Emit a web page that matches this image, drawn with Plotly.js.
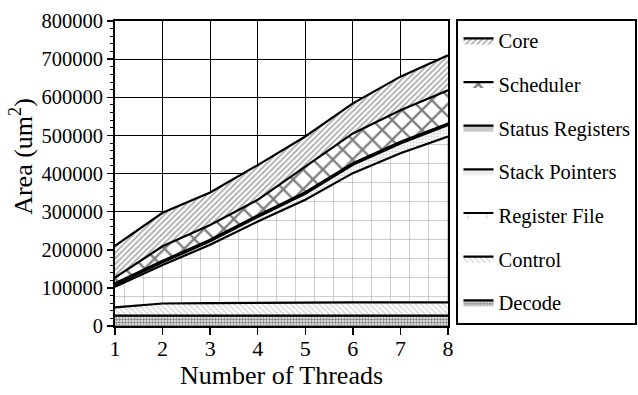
<!DOCTYPE html>
<html>
<head>
<meta charset="utf-8">
<script src="https://cdn.plot.ly/plotly-3.0.1.min.js"></script>
<style>html,body{margin:0;padding:0;background:#fff;}#chart{width:638px;height:395px;}</style>
</head>
<body>
<div id="chart"></div>
<script>
// Data (layer thicknesses, stacked bottom to top)
var threads = [1, 2, 3, 4, 5, 6, 7, 8];
var decode = [27000, 27000, 27000, 27000, 27000, 27000, 27000, 27000];
var control = [22000, 32000, 33000, 34000, 34000, 35000, 35000, 35000];
var registerFile = [54000, 101000, 153000, 213000, 270000, 339000, 391000, 435000];
var stackPointers = [5000, 7000, 9000, 12000, 16000, 22000, 26000, 30000];
var statusRegisters = [4000, 4000, 4000, 4000, 4000, 4000, 4000, 4000];
var scheduler = [15000, 38000, 39000, 41000, 67000, 78000, 83000, 87000];
var core = [83000, 88000, 85000, 91000, 79000, 79000, 88000, 92000];
var yTickVals = [0, 100000, 200000, 300000, 400000, 500000, 600000, 700000, 800000];
var yTickText = ['0', '100000', '200000', '300000', '400000', '500000', '600000', '700000', '800000'];

var FONT = 'Liberation Serif';

function layer(name, values, pattern, rank) {
  var t = {
    x: threads, y: values, name: name, type: 'scatter', mode: 'lines',
    stackgroup: 'one', legendgroup: name, legendrank: rank,
    line: {color: '#000', width: 2.2},
    fillcolor: '#ffffff',
    hoverinfo: 'skip'
  };
  if (pattern) t.fillpattern = pattern;
  return t;
}

var traces = [
  layer('Decode', decode, {shape: '.', size: 3, solidity: 0.6, fgcolor: '#000', bgcolor: '#fff', fillmode: 'overlay'}, 7),
  layer('Control', control, {shape: '\\', size: 4, solidity: 0.35, fgcolor: '#aaa', bgcolor: '#fff', fillmode: 'overlay'}, 6),
  layer('Register File', registerFile, {shape: '+', size: 19, solidity: 0.05, fgcolor: '#333', bgcolor: '#fff', fillmode: 'overlay'}, 5),
  layer('Stack Pointers', stackPointers, {shape: '.', size: 3, solidity: 0.5, fgcolor: '#bbb', bgcolor: '#fff', fillmode: 'overlay'}, 4),
  layer('Status Registers', statusRegisters, null, 3),
  layer('Scheduler', scheduler, {shape: 'x', size: 14, solidity: 0.3, fgcolor: '#000', bgcolor: '#fff', fillmode: 'overlay'}, 2),
  layer('Core', core, {shape: '/', size: 4, solidity: 0.45, fgcolor: '#555', bgcolor: '#fff', fillmode: 'overlay'}, 1)
];
traces[4].fillcolor = '#c8c8c8';

var layout = {
  width: 638, height: 395,
  margin: {l: 115, r: 190, t: 21, b: 68.5, autoexpand: false},
  paper_bgcolor: '#fff', plot_bgcolor: '#fff',
  font: {family: FONT, size: 20, color: '#000'},
  showlegend: true,
  legend: {
    x: 1.0255, y: 1.008, xanchor: 'left', yanchor: 'top',
    traceorder: 'grouped', tracegroupgap: 14, maxheight: 1,
    bordercolor: '#000', borderwidth: 2, bgcolor: '#fff',
    font: {family: FONT, size: 20.5, color: '#000'}
  },
  annotations: [{
    xref: 'paper', yref: 'paper', x: -0.279, y: 0.555,
    xanchor: 'center', yanchor: 'middle', textangle: -90, showarrow: false,
    text: 'Area (um<sup>2</sup>)', font: {family: FONT, size: 26, color: '#000'}
  }],
  xaxis: {
    range: [1, 8], tickvals: threads, ticktext: threads.map(String),
    showgrid: true, gridcolor: '#000', gridwidth: 1,
    showline: true, linecolor: '#000', linewidth: 2, mirror: true,
    ticks: 'outside', ticklen: 7, tickwidth: 1.5, tickcolor: '#000',
    tickfont: {family: FONT, size: 22}, ticklabelstandoff: -5,
    title: {text: 'Number of Threads', font: {family: FONT, size: 26}, standoff: 4},
    zeroline: false, fixedrange: true
  },
  yaxis: {
    range: [0, 800000], tickvals: yTickVals, ticktext: yTickText,
    showgrid: true, gridcolor: '#000', gridwidth: 1,
    showline: true, linecolor: '#000', linewidth: 2, mirror: true,
    ticks: 'outside', ticklen: 6, tickwidth: 1.5, tickcolor: '#000',
    minor: {dtick: 20000, ticks: 'outside', ticklen: 3, tickcolor: '#000', tickwidth: 1, showgrid: false},
    tickfont: {family: FONT, size: 20.5},
    zeroline: false, fixedrange: true
  }
};

Plotly.newPlot('chart', traces, layout, {displayModeBar: false, staticPlot: true});
</script>
</body>
</html>
